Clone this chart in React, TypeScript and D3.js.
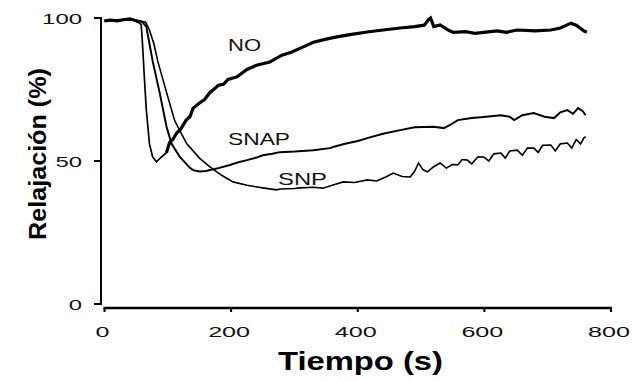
import * as d3 from "d3";

// traces: [time (s), relaxation (%)]
const noTrace: [number, number][] = [
  [0, 99], [10, 99.3], [20, 99], [30, 99.4], [40, 99.7], [45, 99.4], [50, 99], [55, 98.5],
  [58, 97.5], [60, 91], [63, 79], [66, 68], [71, 56], [76, 51.4], [82, 49.7], [90, 51.4],
  [98, 53], [103, 56.6], [108, 57.5], [114, 59.8], [120, 61], [129, 64.3], [135, 65.5],
  [140, 68.5], [150, 70.3], [158, 71.5], [166, 73.8], [180, 76.5], [188, 76.8], [195, 78.5],
  [209, 79.4], [225, 82], [240, 83.5], [261, 84.6], [280, 87], [295, 88], [314, 89.9],
  [330, 91.5], [350, 92.6], [367, 93.4], [390, 94.3], [415, 95.1], [440, 95.8], [467, 96.5],
  [490, 97], [505, 97.5], [512, 99.5], [515, 100], [520, 97], [530, 97.6], [545, 95.5],
  [551, 95], [570, 95.2], [585, 94.6], [599, 95], [620, 95.5], [635, 95], [652, 95.8],
  [680, 95.5], [705, 95.8], [720, 96.5], [737, 98.2], [745, 97.5], [757, 95.5], [762, 95],
];

const snapTrace: [number, number][] = [
  [0, 99], [20, 99.3], [40, 99.5], [55, 99], [60, 98.5], [66, 97], [71, 91], [76, 85],
  [87, 74], [98, 62], [106, 56], [119, 51.4], [135, 47.6], [140, 46.8], [150, 46.3],
  [160, 46.5], [170, 47], [180, 47.5], [198, 48.6], [210, 49.5], [225, 50.3], [240, 51.2],
  [250, 52], [265, 52.5], [277, 53.1], [300, 53.3], [330, 53.8], [356, 54.5], [361, 54.9],
  [380, 56], [400, 57], [415, 58], [440, 59.5], [467, 60.8], [490, 61.8], [520, 62],
  [536, 61.5], [545, 62.5], [558, 64.3], [580, 65], [599, 65.4], [626, 66], [640, 65.5],
  [647, 64.3], [660, 66], [678, 66.8], [695, 65.5], [710, 65], [720, 67], [731, 67.8],
  [740, 66.5], [748, 68.5], [755, 67.5], [760, 66],
];

const snpTrace: [number, number][] = [
  [0, 99], [20, 99.3], [40, 99.5], [55, 99], [65, 98.5], [71, 95.8], [78, 91], [84, 85],
  [98, 74], [111, 64], [130, 56], [150, 51], [166, 48], [185, 45], [203, 42.7], [225, 41.5],
  [250, 40.6], [272, 39.9], [277, 40.2], [300, 40.4], [309, 40.6], [330, 40.8], [345, 40.5],
  [361, 41.6], [377, 42.7], [395, 42.5], [415, 43.4], [430, 43], [445, 44.5], [456, 45.8],
  [470, 44.6], [483, 44.4], [490, 46.5], [496, 49.3], [503, 47], [510, 46.2], [520, 48],
  [530, 49.3], [540, 47.5], [550, 48.8], [558, 48.6], [565, 50.5], [573, 50.3], [580, 49],
  [590, 51.5], [599, 51.4], [607, 50], [615, 52.5], [626, 52.8], [633, 51], [640, 53.5],
  [652, 53.8], [660, 52], [668, 54.5], [678, 54.5], [685, 53], [692, 55.5], [705, 55.6],
  [712, 53.5], [720, 56], [731, 56.3], [738, 54.5], [745, 57.5], [752, 56], [757, 58],
  [760, 58.5],
];

const xTicks = [0, 200, 400, 600, 800];
const yTicks = [0, 50, 100];

// NO is drawn thin through its fast dip (thinFrom..thinTo), thick elsewhere
const series = [
  { name: "NO", data: noTrace, width: 3.2, thin: [55, 98], label: { x: 228, y: 51, len: 33 } },
  { name: "SNAP", data: snapTrace, width: 2, thin: null, label: { x: 228, y: 145, len: 62 } },
  { name: "SNP", data: snpTrace, width: 1.6, thin: null, label: { x: 278, y: 185, len: 49 } },
];

const font = "'Liberation Sans', Arial, sans-serif";

export default function App() {
  const width = 634;
  const height = 381;
  const x = d3.scaleLinear().domain([0, 800]).range([104.5, 611]);
  const y = d3.scaleLinear().domain([0, 100]).range([304, 18]);
  const line = d3.line<[number, number]>().x((d) => x(d[0])).y((d) => y(d[1]));
  const axisX = 101;
  const axisY = 308;

  const pieces = (s: (typeof series)[number]) => {
    if (!s.thin) return [{ data: s.data, w: s.width }];
    const [a, b] = s.thin;
    return [
      { data: s.data.filter((d) => d[0] <= a), w: s.width },
      { data: s.data.filter((d) => d[0] >= a && d[0] <= b + 5), w: 1.7 },
      { data: s.data.filter((d) => d[0] >= b), w: s.width },
    ];
  };

  return (
    <svg width={width} height={height} style={{ position: "absolute", left: 0, top: 0, background: "#fff" }} fontFamily={font}>
      <rect width={width} height={height} fill="#fff" />
      {/* y axis */}
      <line x1={axisX} x2={axisX} y1={y(100) - 1} y2={y(0) + 1} stroke="#000" strokeWidth={2} />
      {yTicks.map((t) => (
        <g key={t}>
          <line x1={axisX - 7} x2={axisX} y1={y(t)} y2={y(t)} stroke="#000" strokeWidth={2} />
          <text x={82} y={y(t) + 5.5} textAnchor="end" fontSize={14} fill="#111"
            textLength={String(t).length * 13.3} lengthAdjust="spacingAndGlyphs">{t}</text>
        </g>
      ))}
      {/* x axis */}
      <line x1={x(0) - 1} x2={x(800) + 1} y1={axisY} y2={axisY} stroke="#000" strokeWidth={2.5} />
      {xTicks.map((t) => (
        <g key={t}>
          <line x1={x(t)} x2={x(t)} y1={axisY} y2={axisY + 4} stroke="#000" strokeWidth={2} />
          <text x={x(t) - 2} y={337} textAnchor="middle" fontSize={14} fill="#111"
            textLength={String(t).length * 14} lengthAdjust="spacingAndGlyphs">{t}</text>
        </g>
      ))}
      <text x={360.5} y={370} textAnchor="middle" fontSize={26} fontWeight="bold" fill="#000"
        textLength={165} lengthAdjust="spacingAndGlyphs">Tiempo (s)</text>
      <text transform="translate(46,154) rotate(-90)" textAnchor="middle" fontSize={23} fontWeight="bold" fill="#000"
        textLength={172} lengthAdjust="spacingAndGlyphs">Relajación (%)</text>
      {/* traces */}
      {series.map((s) => (
        <g key={s.name}>
          {pieces(s).map((p, i) => (
            <path key={i} d={line(p.data) ?? ""} fill="none" stroke="#000" strokeWidth={p.w} strokeLinejoin="miter" />
          ))}
        </g>
      ))}
      {series.map((s) => (
        <text key={s.name + "-l"} x={s.label.x} y={s.label.y} fontSize={17} fill="#111"
          textLength={s.label.len} lengthAdjust="spacingAndGlyphs">{s.name}</text>
      ))}
    </svg>
  );
}
